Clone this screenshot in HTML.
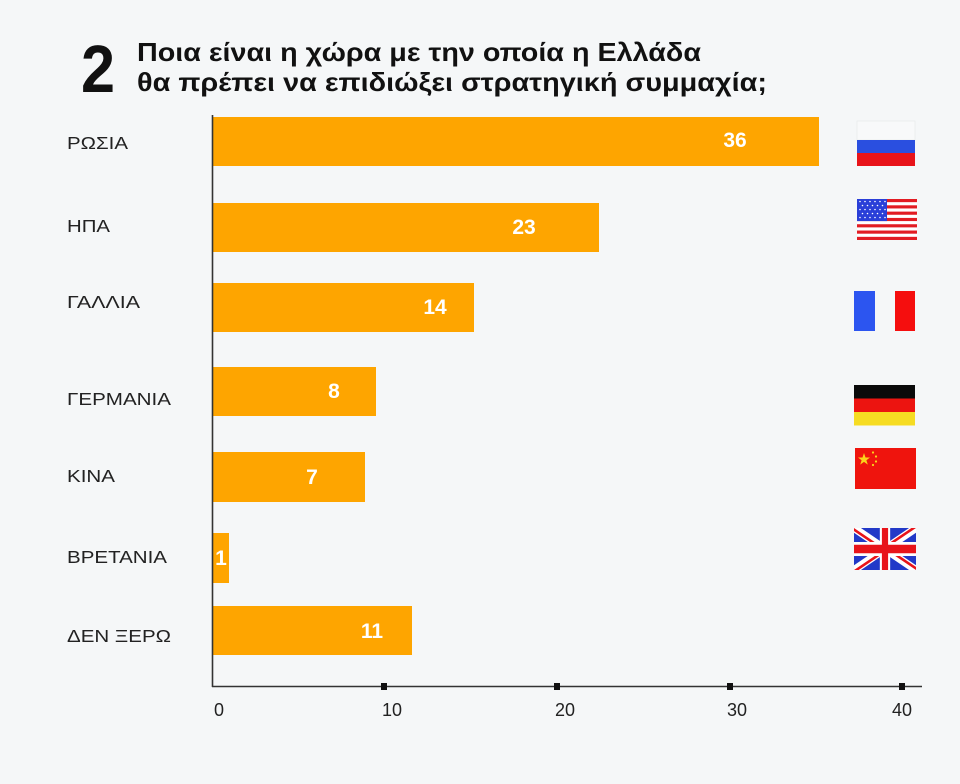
<!DOCTYPE html>
<html>
<head>
<meta charset="utf-8">
<style>
html,body{margin:0;padding:0;background:#f5f7f8;}
svg{display:block;}
</style>
</head>
<body>
<svg width="960" height="784" viewBox="0 0 960 784" xmlns="http://www.w3.org/2000/svg">
  <rect x="0" y="0" width="960" height="784" fill="#f5f7f8"/>

  <!-- Title -->
  <text x="81" y="92" font-family="Liberation Sans, sans-serif" font-weight="bold" font-size="67" fill="#111" textLength="34" lengthAdjust="spacingAndGlyphs">2</text>
  <text x="137" y="61" font-family="Liberation Sans, sans-serif" font-weight="bold" font-size="26" fill="#111" textLength="564" lengthAdjust="spacingAndGlyphs">Ποια είναι η χώρα με την οποία η Ελλάδα</text>
  <text x="137" y="91" font-family="Liberation Sans, sans-serif" font-weight="bold" font-size="26" fill="#111" textLength="630" lengthAdjust="spacingAndGlyphs">θα πρέπει να επιδιώξει στρατηγική συμμαχία;</text>

  <!-- Category labels -->
  <g font-family="Liberation Sans, sans-serif" font-size="17.5" fill="#222">
    <text x="67" y="149" textLength="61" lengthAdjust="spacingAndGlyphs">ΡΩΣΙΑ</text>
    <text x="67" y="232" textLength="43" lengthAdjust="spacingAndGlyphs">ΗΠΑ</text>
    <text x="67" y="308" textLength="73" lengthAdjust="spacingAndGlyphs">ΓΑΛΛΙΑ</text>
    <text x="67" y="405" textLength="104" lengthAdjust="spacingAndGlyphs">ΓΕΡΜΑΝΙΑ</text>
    <text x="67" y="482" textLength="48" lengthAdjust="spacingAndGlyphs">ΚΙΝΑ</text>
    <text x="67" y="563" textLength="100" lengthAdjust="spacingAndGlyphs">ΒΡΕΤΑΝΙΑ</text>
    <text x="67" y="642" textLength="104" lengthAdjust="spacingAndGlyphs">ΔΕΝ ΞΕΡΩ</text>
  </g>

  <!-- Bars -->
  <g fill="#fea500">
    <rect x="212" y="117" width="607" height="49"/>
    <rect x="212" y="203" width="387" height="49"/>
    <rect x="212" y="283" width="262" height="49"/>
    <rect x="212" y="367" width="164" height="49"/>
    <rect x="212" y="452" width="153" height="50"/>
    <rect x="212" y="533" width="17" height="50"/>
    <rect x="212" y="606" width="200" height="49"/>
  </g>

  <!-- Value labels -->
  <g font-family="Liberation Sans, sans-serif" font-weight="bold" font-size="21" fill="#ffffff" text-anchor="middle">
    <text x="735" y="147">36</text>
    <text x="524" y="234">23</text>
    <text x="435" y="314">14</text>
    <text x="334" y="398">8</text>
    <text x="312" y="484">7</text>
    <text x="221" y="565">1</text>
    <text x="372" y="638">11</text>
  </g>

  <!-- Axes -->
  <line x1="212.5" y1="115" x2="212.5" y2="687" stroke="#333" stroke-width="1.6"/>
  <line x1="212" y1="686.5" x2="922" y2="686.5" stroke="#333" stroke-width="1.6"/>
  <g fill="#111">
    <rect x="381" y="683" width="6" height="7"/>
    <rect x="554" y="683" width="6" height="7"/>
    <rect x="727" y="683" width="6" height="7"/>
    <rect x="899" y="683" width="6" height="7"/>
  </g>
  <g font-family="Liberation Sans, sans-serif" font-size="18" fill="#222" text-anchor="middle">
    <text x="219" y="716">0</text>
    <text x="392" y="716">10</text>
    <text x="565" y="716">20</text>
    <text x="737" y="716">30</text>
    <text x="902" y="716">40</text>
  </g>

  <!-- Russia flag -->
  <rect x="857" y="121" width="58" height="19" fill="#f8f9fa" stroke="#e4e6e8" stroke-width="0.6"/>
  <rect x="857" y="140" width="58" height="13" fill="#2a4fe0"/>
  <rect x="857" y="153" width="58" height="13" fill="#e8141a"/>

  <!-- USA flag -->
  <svg x="857" y="199" width="60" height="41" viewBox="0 0 60 41" preserveAspectRatio="none">
    <rect x="0" y="0" width="60" height="41" fill="#e21c23"/>
    <g fill="#ffffff">
      <rect x="0" y="3.15" width="60" height="3.15"/>
      <rect x="0" y="9.46" width="60" height="3.15"/>
      <rect x="0" y="15.77" width="60" height="3.15"/>
      <rect x="0" y="22.08" width="60" height="3.15"/>
      <rect x="0" y="28.38" width="60" height="3.15"/>
      <rect x="0" y="34.69" width="60" height="3.15"/>
    </g>
    <rect x="0" y="0" width="30" height="22.08" fill="#2a3fd8"/>
    <g fill="#ffffff">
      <circle cx="3" cy="2.5" r="0.8"/><circle cx="8" cy="2.5" r="0.8"/><circle cx="13" cy="2.5" r="0.8"/><circle cx="18" cy="2.5" r="0.8"/><circle cx="23" cy="2.5" r="0.8"/><circle cx="28" cy="2.5" r="0.8"/>
      <circle cx="5.5" cy="6.5" r="0.8"/><circle cx="10.5" cy="6.5" r="0.8"/><circle cx="15.5" cy="6.5" r="0.8"/><circle cx="20.5" cy="6.5" r="0.8"/><circle cx="25.5" cy="6.5" r="0.8"/>
      <circle cx="3" cy="10.5" r="0.8"/><circle cx="8" cy="10.5" r="0.8"/><circle cx="13" cy="10.5" r="0.8"/><circle cx="18" cy="10.5" r="0.8"/><circle cx="23" cy="10.5" r="0.8"/><circle cx="28" cy="10.5" r="0.8"/>
      <circle cx="5.5" cy="14.5" r="0.8"/><circle cx="10.5" cy="14.5" r="0.8"/><circle cx="15.5" cy="14.5" r="0.8"/><circle cx="20.5" cy="14.5" r="0.8"/><circle cx="25.5" cy="14.5" r="0.8"/>
      <circle cx="3" cy="18.5" r="0.8"/><circle cx="8" cy="18.5" r="0.8"/><circle cx="13" cy="18.5" r="0.8"/><circle cx="18" cy="18.5" r="0.8"/><circle cx="23" cy="18.5" r="0.8"/><circle cx="28" cy="18.5" r="0.8"/>
    </g>
  </svg>

  <!-- France flag -->
  <rect x="854" y="291" width="21" height="40" fill="#2c55f0"/>
  <rect x="875" y="291" width="20" height="40" fill="#f5f7f8"/>
  <rect x="895" y="291" width="20" height="40" fill="#f50e0e"/>

  <!-- Germany flag -->
  <rect x="854" y="385" width="61" height="13.5" fill="#0a0a0a"/>
  <rect x="854" y="398.5" width="61" height="13.5" fill="#ec1410"/>
  <rect x="854" y="412" width="61" height="13.5" fill="#f6dc23"/>

  <!-- China flag -->
  <rect x="855" y="448" width="61" height="41" fill="#ef140d"/>
  <polygon points="864,453 865.5,457.5 870,457.5 866.4,460.2 867.8,464.6 864,461.9 860.2,464.6 861.6,460.2 858,457.5 862.5,457.5" fill="#fbd31a"/>
  <g fill="#fbd31a">
    <circle cx="873" cy="452.5" r="1.1"/>
    <circle cx="876" cy="456.5" r="1.1"/>
    <circle cx="876" cy="461.5" r="1.1"/>
    <circle cx="873" cy="465" r="1.1"/>
  </g>

  <!-- UK flag -->
  <svg x="854" y="528" width="62" height="42" viewBox="0 0 60 30" preserveAspectRatio="none">
    <defs>
      <clipPath id="ukclip"><path d="M30,15 h30 v15 z v15 h-30 z h-30 v-15 z v-15 h30 z"/></clipPath>
    </defs>
    <rect x="0" y="0" width="60" height="30" fill="#2239c8"/>
    <path d="M0,0 L60,30 M60,0 L0,30" stroke="#ffffff" stroke-width="6"/>
    <path d="M0,0 L60,30 M60,0 L0,30" clip-path="url(#ukclip)" stroke="#e8141a" stroke-width="4"/>
    <path d="M30,0 v30 M0,15 h60" stroke="#ffffff" stroke-width="10"/>
    <path d="M30,0 v30 M0,15 h60" stroke="#e8141a" stroke-width="6"/>
  </svg>
</svg>
</body>
</html>
